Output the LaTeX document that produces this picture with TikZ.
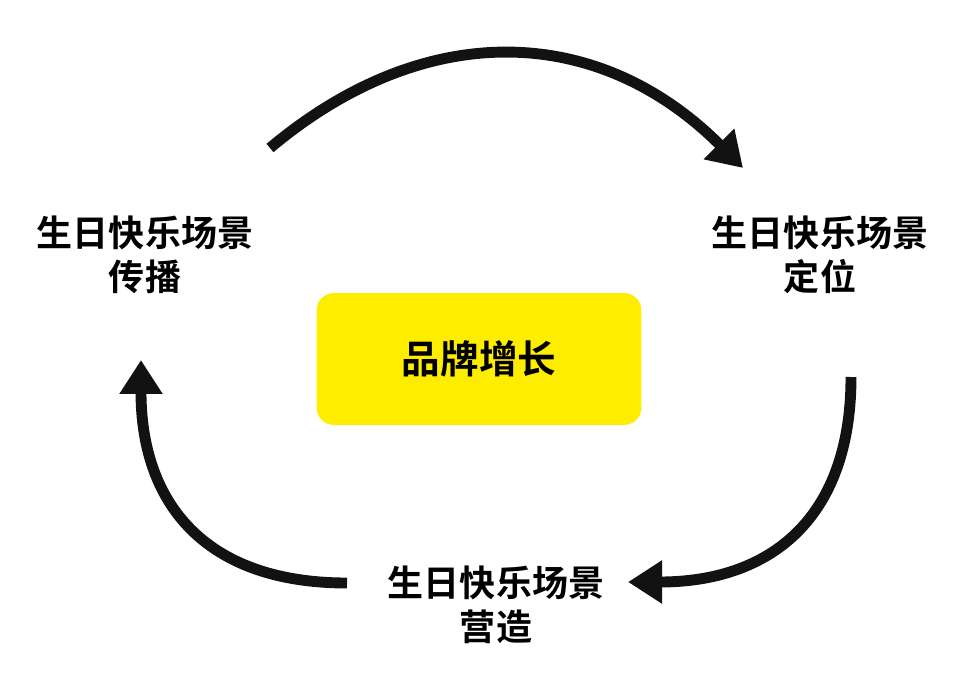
\documentclass[tikz,border=0pt]{standalone}
\usepackage{fontspec}
\newfontfamily\cjkfont{Noto Sans CJK SC}[BoldFont={Noto Sans CJK SC Bold}]
\usetikzlibrary{arrows.meta}
\usepackage{xcolor}
\definecolor{brandYellow}{RGB}{255,237,0}
\tikzset{
    font=\cjkfont\bfseries,
    >={Triangle[length=0.68cm, width=0.82cm]},
    % Shapes
    hub/.style={rectangle, fill=brandYellow, rounded corners=0.35cm,
                minimum width=6.5cm, minimum height=2.64cm, align=center,
                font=\cjkfont\bfseries\fontsize{22}{26}\selectfont},
    scene/.style={align=center, inner sep=0pt,
                  font=\cjkfont\bfseries\fontsize{20.5}{25}\selectfont},
    % Flow
    loopArrow/.style={->, line width=6.2pt, black!93}
}

\begin{document}
\begin{tikzpicture}[x=0.02cm, y=0.02cm]
\useasboundingbox (0,0) rectangle (973,684);

% Centre
\node[hub] (hub) at (479,325) {品牌增长};

% Scenes
\node[scene] (spread) at (145,429) {生日快乐场景\\传播};
\node[scene] (locate) at (820,429) {生日快乐场景\\定位};
\node[scene] (create) at (496,79) {生日快乐场景\\营造};

% Arc ends
\coordinate (topA) at (270,536);
\coordinate (topB) at (743,516);
\coordinate (rightA) at (851,307);
\coordinate (rightB) at (628,102);
\coordinate (leftA) at (347,101);
\coordinate (leftB) at (141,324);

% Loop
\draw[loopArrow] (topA) to[out=40, in=135, looseness=1.1] (topB);
\draw[loopArrow] (rightA) to[out=-90, in=0, looseness=1.2] (rightB);
\draw[loopArrow] (leftA) to[out=180, in=-90, looseness=1.2] (leftB);

\end{tikzpicture}
\end{document}
